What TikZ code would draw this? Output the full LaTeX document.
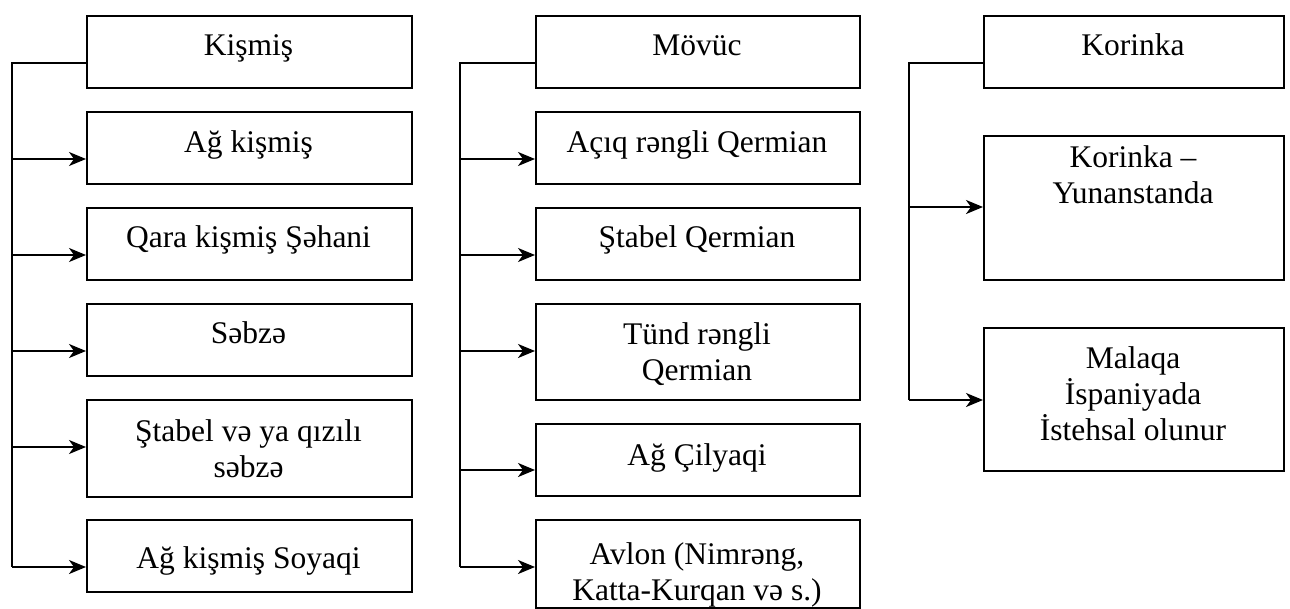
\documentclass[tikz,border=0pt]{standalone}
\usepackage{fontspec}
\setmainfont{Liberation Serif}
\usetikzlibrary{arrows.meta}
\begin{document}
\begin{tikzpicture}[x=1pt,y=-1pt,
  box/.style={draw=black,line width=2pt,inner sep=0pt,anchor=north west},
  txt/.style={inner sep=0pt,anchor=base,align=center,font=\fontsize{31.5}{36}\selectfont},
  link/.style={line width=2pt},
  arr/.style={line width=2pt,-{Stealth[length=17pt,width=14pt,inset=5pt]}}]
\useasboundingbox (0,0) rectangle (1290,608);
% column 1
\node[box,minimum width=325pt,minimum height=72pt] (a0) at (86,15) {};
\node[box,minimum width=325pt,minimum height=72pt] (a1) at (86,111) {};
\node[box,minimum width=325pt,minimum height=72pt] (a2) at (86,207) {};
\node[box,minimum width=325pt,minimum height=72pt] (a3) at (86,303) {};
\node[box,minimum width=325pt,minimum height=97pt] (a4) at (86,399) {};
\node[box,minimum width=325pt,minimum height=72pt] (a5) at (86,519) {};
\node[txt] (ta0) at (248.5,55) {Kişmiş};
\node[txt] (ta1) at (248.5,152) {Ağ kişmiş};
\node[txt] (ta2) at (248.5,247) {Qara kişmiş Şəhani};
\node[txt] (ta3) at (248.5,343) {Səbzə};
\node[txt] (ta4) at (248.5,477) {Ştabel və ya qızılı\\səbzə};
\node[txt] (ta5) at (248.5,568) {Ağ kişmiş Soyaqi};
\coordinate (ca) at (12,63);
\coordinate (ea) at (12,567);
\draw[link] (a0.west |- ca) -- (ca) -- (ea);
\draw[arr] (12,159) -- (a1.west |- 0,159);
\draw[arr] (12,255) -- (a2.west |- 0,255);
\draw[arr] (12,351) -- (a3.west |- 0,351);
\draw[arr] (12,447) -- (a4.west |- 0,447);
\draw[arr] (ea) -- (a5.west |- ea);
% column 2
\node[box,minimum width=324pt,minimum height=72pt] (b0) at (535,15) {};
\node[box,minimum width=324pt,minimum height=72pt] (b1) at (535,111) {};
\node[box,minimum width=324pt,minimum height=72pt] (b2) at (535,207) {};
\node[box,minimum width=324pt,minimum height=96pt] (b3) at (535,303) {};
\node[box,minimum width=324pt,minimum height=72pt] (b4) at (535,423) {};
\node[box,minimum width=324pt,minimum height=88pt] (b5) at (535,519) {};
\node[txt] (tb0) at (697,55) {Mövüc};
\node[txt] (tb1) at (697,152) {Açıq rəngli Qermian};
\node[txt] (tb2) at (697,247) {Ştabel Qermian};
\node[txt] (tb3) at (697,380) {Tünd rəngli\\Qermian};
\node[txt] (tb4) at (697,465) {Ağ Çilyaqi};
\node[txt] (tb5) at (697,600) {Avlon (Nimrəng,\\Katta-Kurqan və s.)};
\coordinate (cb) at (460,63);
\coordinate (eb) at (460,567);
\draw[link] (b0.west |- cb) -- (cb) -- (eb);
\draw[arr] (460,159) -- (b1.west |- 0,159);
\draw[arr] (460,255) -- (b2.west |- 0,255);
\draw[arr] (460,351) -- (b3.west |- 0,351);
\draw[arr] (460,470) -- (b4.west |- 0,470);
\draw[arr] (eb) -- (b5.west |- eb);
% column 3
\node[box,minimum width=300pt,minimum height=72pt] (c0) at (983,15) {};
\node[box,minimum width=300pt,minimum height=144pt] (c1) at (983,135) {};
\node[box,minimum width=300pt,minimum height=143pt] (c2) at (983,327) {};
\node[txt] (tc0) at (1133,55) {Korinka};
\node[txt] (tc1) at (1133,203) {Korinka –\\Yunanstanda};
\node[txt] (tc2) at (1133,440) {Malaqa\\İspaniyada\\İstehsal olunur};
\coordinate (cc) at (909,63);
\coordinate (ec) at (909,400);
\draw[link] (c0.west |- cc) -- (cc) -- (ec);
\draw[arr] (909,207) -- (c1.west |- 0,207);
\draw[arr] (ec) -- (c2.west |- ec);
\end{tikzpicture}
\end{document}
